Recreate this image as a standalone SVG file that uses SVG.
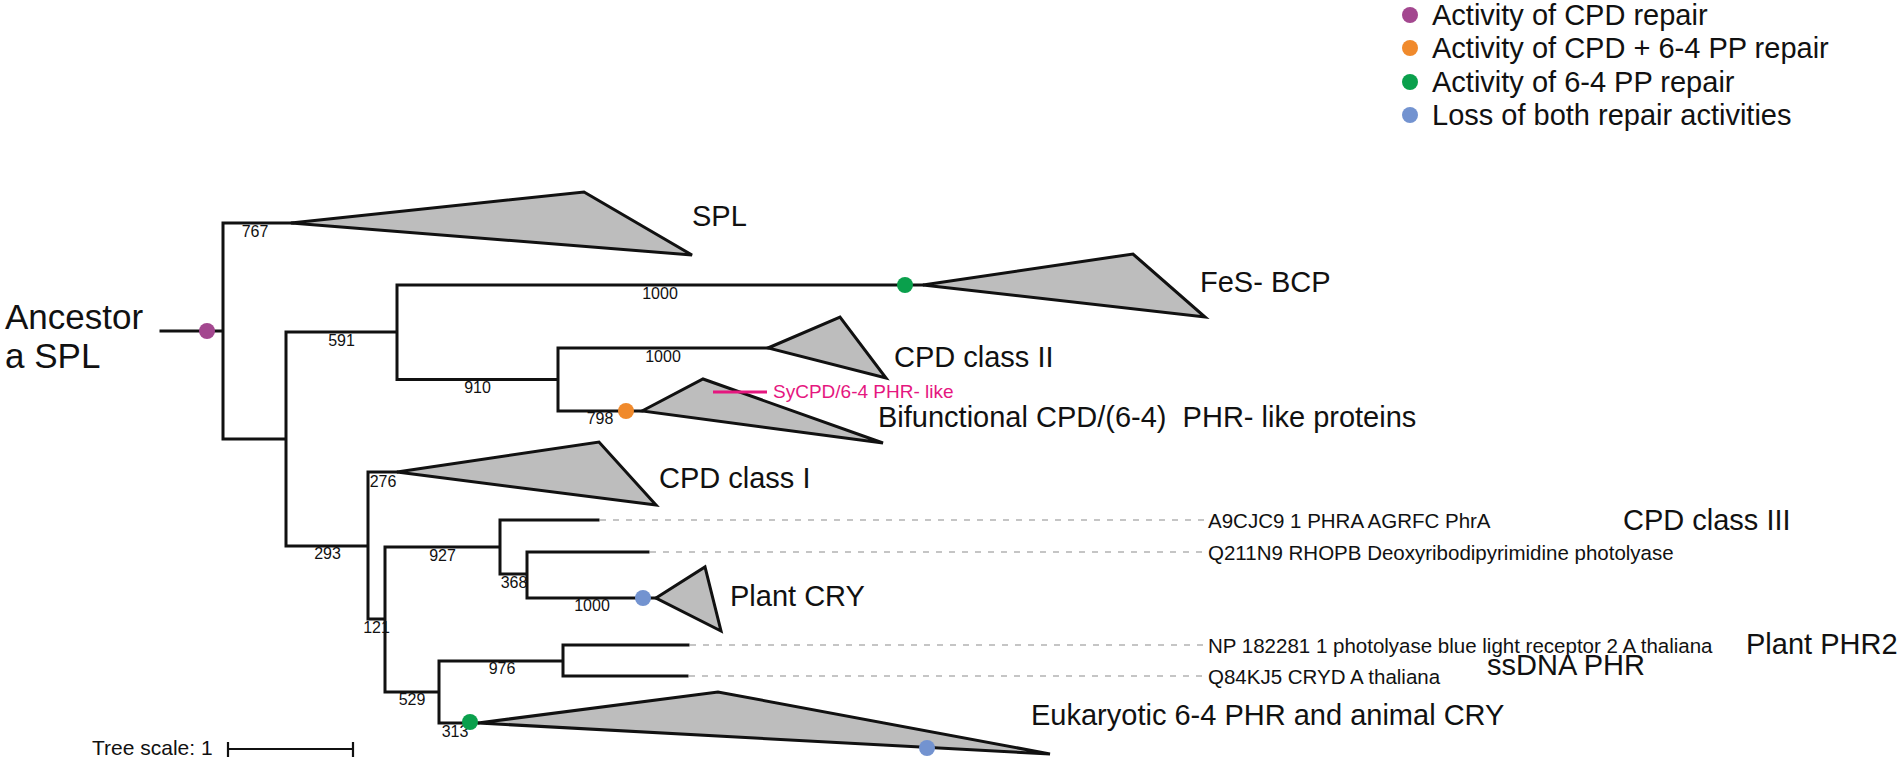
<svg xmlns="http://www.w3.org/2000/svg" width="1902" height="765" viewBox="0 0 1902 765">
<style>
.br{fill:none;stroke:#111;stroke-width:3;stroke-linecap:square}
.tri{fill:#bdbdbd;stroke:#111;stroke-width:3;stroke-linejoin:miter}
.lead{fill:none;stroke:#b3b3b3;stroke-width:1.6;stroke-dasharray:6 7}
.bs{font-family:"Liberation Sans",Arial,sans-serif;font-size:16px;fill:#111;text-anchor:middle}
.cl{font-family:"Liberation Sans",Arial,sans-serif;font-size:29px;fill:#111;white-space:pre}
.lf{font-family:"Liberation Sans",Arial,sans-serif;font-size:20.5px;fill:#111}
.lg{font-family:"Liberation Sans",Arial,sans-serif;font-size:29px;fill:#111}
.big{font-family:"Liberation Sans",Arial,sans-serif;font-size:35px;fill:#111}
.pu{fill:#a3478f}.or{fill:#f08a2c}.gr{fill:#0aa04c}.bl{fill:#7393d0}
</style>
<rect width="1902" height="765" fill="#fff"/>
<g id="connectors">
<path class="br" d="M161,331H223M223,223V439M223,223H293M223,439H286M286,332V546M286,332H397M397,285V379.5M397,285H923M397,379.5H558M558,348V411M558,348H768M558,411H642M286,546H368M368,472V619M368,472H397M368,619H385M385,547V692M385,547H500M500,520V574M500,520H598M500,574H527M527,552V598M527,552H648M527,598H656M385,692H439M439,661V723M439,661H563M563,645V676M563,645H688M563,676H687M439,723H478"/>
<path class="lead" d="M600,520H1206M650,552H1206M690,645H1206M689,676H1206"/>
<path d="M228,749H353M228,742V757M353,742V757" fill="none" stroke="#111" stroke-width="2.2"/>
</g>
<g id="bootstrap">
<text class="bs" x="255" y="237">767</text>
<text class="bs" x="341.5" y="346">591</text>
<text class="bs" x="660" y="299">1000</text>
<text class="bs" x="477.5" y="393">910</text>
<text class="bs" x="663" y="362">1000</text>
<text class="bs" x="600" y="424">798</text>
<text class="bs" x="327.5" y="559">293</text>
<text class="bs" x="383" y="487">276</text>
<text class="bs" x="376.5" y="633">121</text>
<text class="bs" x="442.5" y="561">927</text>
<text class="bs" x="514" y="588">368</text>
<text class="bs" x="592" y="611">1000</text>
<text class="bs" x="412" y="705">529</text>
<text class="bs" x="502" y="674">976</text>
<text class="bs" x="455" y="737">313</text>
</g>
<g id="root">
<text class="big" x="5" y="329">Ancestor</text>
<text class="big" x="5" y="368">a SPL</text>
<circle class="pu" cx="207" cy="331" r="8"/>
</g>
<g id="clade-spl">
<polygon class="tri" points="291,223 584,192 692,255"/>
<text class="cl" x="692" y="226">SPL</text>
</g>
<g id="clade-fes">
<polygon class="tri" points="923,285 1133,254 1205,317"/>
<circle class="gr" cx="905" cy="285" r="8"/>
<text class="cl" x="1200" y="292">FeS- BCP</text>
</g>
<g id="clade-cpd2">
<polygon class="tri" points="768,348 840,317 886,378"/>
<text class="cl" x="894" y="367">CPD class II</text>
</g>
<g id="clade-bifunctional">
<polygon class="tri" points="642,411 703,379 883,443"/>
<circle class="or" cx="626" cy="411" r="8"/>
<line x1="713" y1="392" x2="767" y2="392" stroke="#e5177f" stroke-width="3"/>
<text x="773" y="398" font-family="Liberation Sans, Arial, sans-serif" font-size="19" fill="#e5177f">SyCPD/6-4 PHR- like</text>
<text class="cl" x="878" y="427">Bifunctional CPD/(6-4)  PHR- like proteins</text>
</g>
<g id="clade-cpd1">
<polygon class="tri" points="397,472 599,442 656,505"/>
<text class="cl" x="659" y="488">CPD class I</text>
</g>
<g id="leaf-a9cjc9">
<text class="lf" x="1208" y="528">A9CJC9 1 PHRA AGRFC PhrA</text>
<text class="cl" x="1623" y="530">CPD class III</text>
</g>
<g id="leaf-q211n9">
<text class="lf" x="1208" y="560">Q211N9 RHOPB Deoxyribodipyrimidine photolyase</text>
</g>
<g id="clade-plantcry">
<polygon class="tri" points="656,598 705,567 721,631"/>
<circle class="bl" cx="643" cy="598" r="8"/>
<text class="cl" x="730" y="606">Plant CRY</text>
</g>
<g id="leaf-np182281">
<text class="lf" x="1208" y="653">NP 182281 1 photolyase blue light receptor 2 A thaliana</text>
<text class="cl" x="1746" y="654">Plant PHR2</text>
</g>
<g id="leaf-q84kj5">
<text class="lf" x="1208" y="684">Q84KJ5 CRYD A thaliana</text>
<text class="cl" x="1487" y="675">ssDNA PHR</text>
</g>
<g id="clade-eukaryotic">
<polygon class="tri" points="478,723 718,692 1050,754"/>
<circle class="gr" cx="470" cy="722" r="8"/>
<circle class="bl" cx="927" cy="748" r="8"/>
<text class="cl" x="1031" y="725">Eukaryotic 6-4 PHR and animal CRY</text>
</g>
<g id="tree-scale">
<text x="92" y="755" font-family="Liberation Sans, Arial, sans-serif" font-size="21" fill="#111">Tree scale: 1</text>
</g>
<g id="legend">
<circle class="pu" cx="1410" cy="15" r="8"/>
<text class="lg" x="1432" y="25">Activity of CPD repair</text>
<circle class="or" cx="1410" cy="48" r="8"/>
<text class="lg" x="1432" y="58">Activity of CPD + 6-4 PP repair</text>
<circle class="gr" cx="1410" cy="82" r="8"/>
<text class="lg" x="1432" y="92">Activity of 6-4 PP repair</text>
<circle class="bl" cx="1410" cy="115" r="8"/>
<text class="lg" x="1432" y="125">Loss of both repair activities</text>
</g>
</svg>
